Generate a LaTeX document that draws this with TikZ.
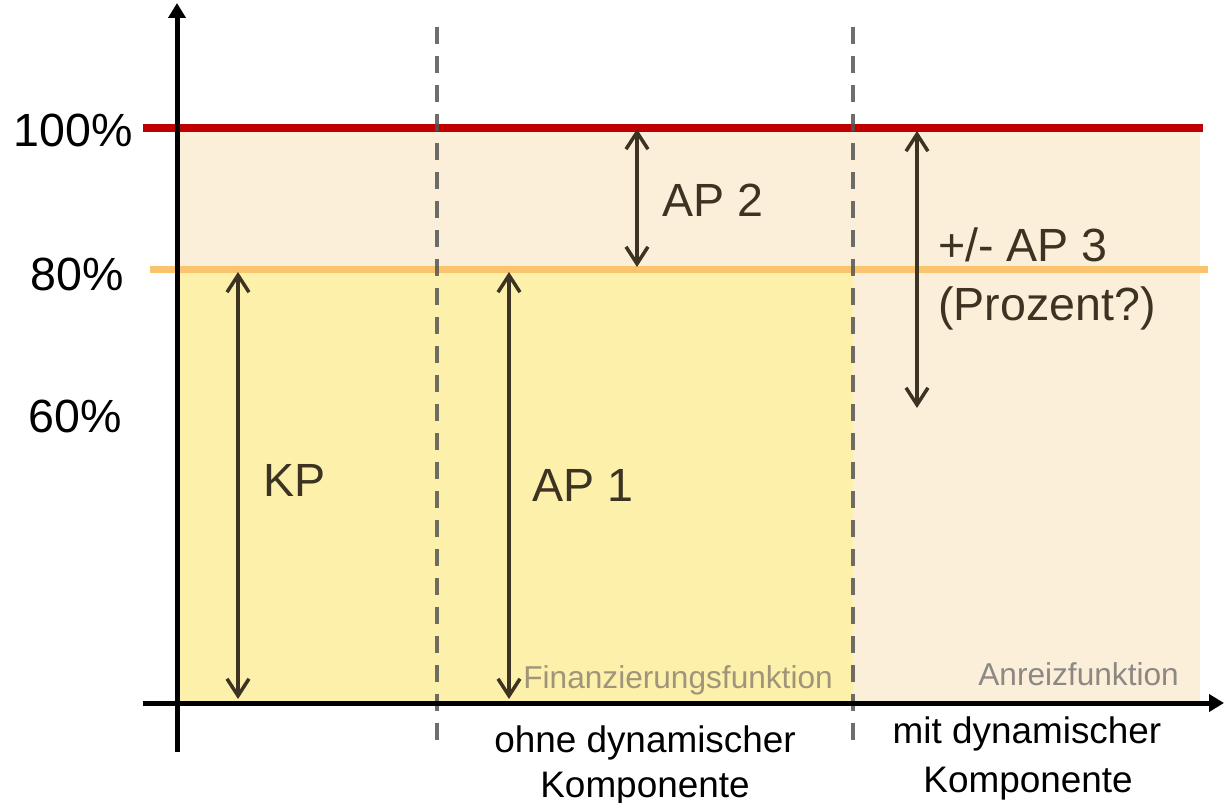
\documentclass[tikz,border=0pt]{standalone}
\usepackage{fontspec}
\setmainfont{Liberation Sans}
\usetikzlibrary{arrows.meta}
\definecolor{beige}{HTML}{FCEFDA}
\definecolor{yel}{HTML}{FDF0AB}
\definecolor{redl}{HTML}{C00000}
\definecolor{orl}{HTML}{FAC46E}
\definecolor{brn}{HTML}{3D3322}
\definecolor{dashg}{HTML}{555555}
\definecolor{lblg}{HTML}{8C8883}
\definecolor{lblf}{HTML}{A0957A}
\begin{document}
\begin{tikzpicture}[x=0.02cm,y=-0.02cm,
  axisline/.style={line width=0.1cm, -{Triangle[length=0.3cm,width=0.34cm]}},
  dimarrow/.style={draw=brn, line width=0.07cm,
    {Straight Barb[length=0.34cm,width=0.44cm]}-{Straight Barb[length=0.34cm,width=0.44cm]}},
  divider/.style={draw=dashg, opacity=0.85, line width=0.08cm, dash pattern=on 0.34cm off 0.24cm},
  bigtxt/.style={font=\fontsize{26.5}{30}\selectfont, inner sep=0, anchor=base west},
  subtxt/.style={font=\fontsize{21}{25}\selectfont, inner sep=0, anchor=base},
  fnctxt/.style={font=\fontsize{18}{21}\selectfont, inner sep=0, anchor=base west}]
\useasboundingbox (0,0) rectangle (1224,803);
% areas
\fill[beige] (178,128) rectangle (1200,703);
\fill[yel] (178,270) rectangle (853,703);
% level lines
\draw[redl, line width=0.16cm] (143,128) -- (1203,128);
\draw[orl, line width=0.14cm] (150,269.5) -- (1208,269.5);
% dividers
\coordinate (d1t) at (437,27); \coordinate (d1b) at (437,745);
\coordinate (d2t) at (853,27); \coordinate (d2b) at (853,745);
\draw[divider] (d1t) -- (d1b);
\draw[divider] (d2t) -- (d2b);
% axes
\coordinate (yb) at (177,752); \coordinate (yt) at (177,3);
\coordinate (xl) at (143,703); \coordinate (xr) at (1224,703);
\draw[axisline] (yb) -- (yt);
\draw[axisline] (xl) -- (xr);
% dimension arrows
\coordinate (kpt) at (238,272); \coordinate (kpb) at (238,699);
\coordinate (a1t) at (509,272); \coordinate (a1b) at (509,699);
\coordinate (a2t) at (637,129); \coordinate (a2b) at (637,267);
\coordinate (a3t) at (917,131); \coordinate (a3b) at (917,408);
\draw[dimarrow] (kpt) -- (kpb);
\draw[dimarrow] (a1t) -- (a1b);
\draw[dimarrow] (a2t) -- (a2b);
\draw[dimarrow] (a3t) -- (a3b);
% labels
\node[bigtxt] (p100) at (13,147) {100\%};
\node[bigtxt] (p80) at (30,291) {80\%};
\node[bigtxt] (p60) at (28,433) {60\%};
\node[bigtxt, text=brn] (kp) at (263,497) {KP};
\node[bigtxt, text=brn] (ap1) at (532,502) {AP 1};
\node[bigtxt, text=brn] (ap2) at (662,217) {AP 2};
\node[bigtxt, text=brn] (ap3) at (938,262) {+/- AP 3};
\node[bigtxt, text=brn] (proz) at (938,321) {(Prozent?)};
\node[fnctxt, text=lblf] (fin) at (523,688) {Finanzierungsfunktion};
\node[fnctxt, text=lblg] (anr) at (978,685) {Anreizfunktion};
\node[subtxt] (ohne1) at (645,752) {ohne dynamischer};
\node[subtxt] (ohne2) at (645,797) {Komponente};
\node[subtxt] (mit1) at (1027,743) {mit dynamischer};
\node[subtxt] (mit2) at (1028,792) {Komponente};
\end{tikzpicture}
\end{document}
